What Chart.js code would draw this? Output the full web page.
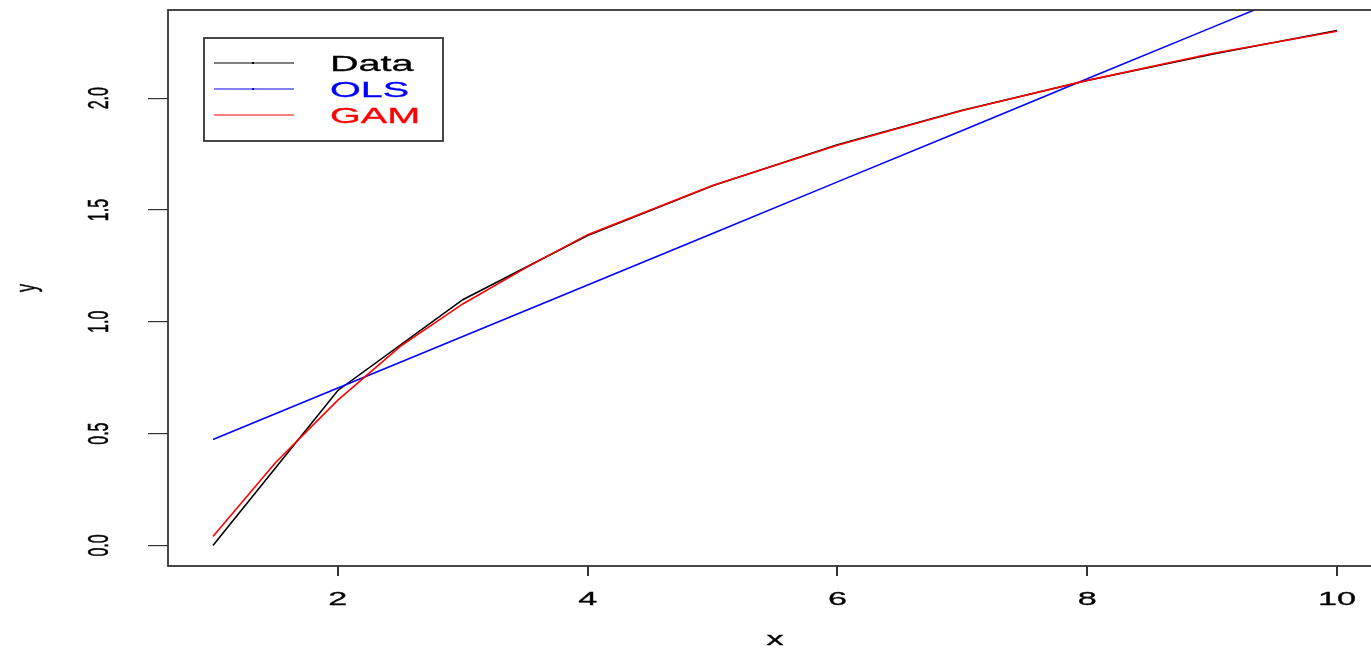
<!DOCTYPE html>
<html>
<head>
<meta charset="utf-8">
<title>Data, OLS and GAM fits</title>
<script src="https://cdn.jsdelivr.net/npm/chart.js@4.4.1/dist/chart.umd.min.js"></script>
<style>
  html, body { margin: 0; padding: 0; background: #fff; overflow: hidden; }
  #wrap { width: 1400px; height: 654px; }
</style>
</head>
<body>
<div id="wrap"><canvas id="plot" width="1400" height="654"></canvas></div>
<script>
// ===== DATA =====

const xValues = [1, 2, 3, 4, 5, 6, 7, 8, 9, 10];
const dataY = [0.000, 0.693, 1.099, 1.386, 1.609, 1.792, 1.946, 2.079, 2.197, 2.303];
const olsY = [0.474, 0.704, 0.934, 1.165, 1.395, 1.626, 1.856, 2.087, 2.317, 2.547];

const gamX = [1, 1.5, 2, 2.5, 3, 3.5, 4, 5, 6, 7, 8, 9, 10];
const gamY = [0.04, 0.37, 0.65, 0.89, 1.08, 1.24, 1.39, 1.61, 1.79, 1.945, 2.08, 2.20, 2.30];

const xTicks = [2, 4, 6, 8, 10];
const yTicks = [0, 0.5, 1.0, 1.5, 2.0];

const seriesNames = ["Data", "OLS", "GAM"];
const seriesColors = ["#000000", "#0000ff", "#ff0000"];

// ===== HELPERS =====

const pairs = (xs, ys) => xs.map((x, i) => ({ x: x, y: ys[i] }));
const FONT = '"Liberation Sans", Arial, sans-serif';
const SX = 1.8; // wide text, as in the exported figure

function wideText(ctx, text, x, y, size, color, rotate, align) {
    ctx.save();
    ctx.translate(x, y);
    ctx.scale(SX, 1);
    if (rotate) ctx.rotate(-Math.PI / 2);
    ctx.font = size + "px " + FONT;
    ctx.fillStyle = color;
    ctx.strokeStyle = color;
    ctx.lineWidth = 0.3;
    ctx.textAlign = align || "center";
    ctx.textBaseline = "middle";
    ctx.fillText(text, 0, 0);
    ctx.strokeText(text, 0, 0);
    ctx.restore();
}

// ===== BOX, LABELS AND LEGEND =====

const basePlot = {
    id: "basePlot",
    afterDraw(chart) {
        const ctx = chart.ctx;
        const area = chart.chartArea;
        const xs = chart.scales.x;
        const ys = chart.scales.y;

        // frame
        ctx.save();
        ctx.strokeStyle = "#333";
        ctx.lineWidth = 1.8;
        ctx.strokeRect(area.left, area.top, area.right - area.left, area.bottom - area.top);
        ctx.restore();

        // tick labels
        xTicks.forEach(v => {
            wideText(ctx, String(v), xs.getPixelForValue(v), 600, 19, "#000", false);
        });
        yTicks.forEach(v => {
            wideText(ctx, v.toFixed(1), 100, ys.getPixelForValue(v), 16, "#000", true);
        });

        // axis titles
        wideText(ctx, "x", (area.left + area.right) / 2, 640, 19, "#000", false);
        wideText(ctx, "y", 28, (area.top + area.bottom) / 2, 16, "#000", true);

        // legend
        const box = { x: 204, y: 38, w: 239, h: 103 };
        ctx.save();
        ctx.fillStyle = "#fff";
        ctx.fillRect(box.x, box.y, box.w, box.h);
        ctx.strokeStyle = "#333";
        ctx.lineWidth = 1.8;
        ctx.strokeRect(box.x, box.y, box.w, box.h);
        chart.data.datasets.forEach((ds, i) => {
            const rowY = 63 + i * 26;
            ctx.strokeStyle = ds.borderColor;
            ctx.lineWidth = 1.2;
            ctx.beginPath();
            ctx.moveTo(214, rowY);
            ctx.lineTo(294, rowY);
            ctx.stroke();
            if (i < 2) {
                ctx.fillStyle = ds.borderColor;
                ctx.fillRect(252, rowY - 1, 2, 2);
            }
            wideText(ctx, ds.label, 330, rowY + 2, 22, ds.borderColor, false, "left");
        });
        ctx.restore();
    }
};

// ===== CHART =====

const lineSet = (i, points, order) => ({
    label: seriesNames[i],
    data: points,
    borderColor: seriesColors[i],
    backgroundColor: seriesColors[i],
    borderWidth: 1.6,
    pointRadius: 0,
    tension: 0,
    fill: false,
    order: order
});

new Chart(document.getElementById("plot"), {
    type: "line",
    data: {
        datasets: [
            lineSet(0, pairs(xValues, dataY), 2),
            lineSet(1, pairs(xValues, olsY), 1),
            lineSet(2, pairs(gamX, gamY), 0)
        ]
    },
    options: {
        responsive: false,
        animation: false,
        devicePixelRatio: 1,
        layout: { padding: { top: 10, right: 18, left: 0, bottom: 0 } },
        plugins: { legend: { display: false }, tooltip: { enabled: false } },
        scales: {
            x: {
                type: "linear",
                min: 0.64,
                max: 10.36,
                afterBuildTicks: s => { s.ticks = xTicks.map(v => ({ value: v })); },
                afterFit: s => { s.height = 88; },
                ticks: { display: false },
                border: { display: false },
                grid: { drawOnChartArea: false, drawTicks: true, tickLength: 10, color: "#333", lineWidth: 2 }
            },
            y: {
                type: "linear",
                min: -0.0921,
                max: 2.3947,
                afterBuildTicks: s => { s.ticks = yTicks.map(v => ({ value: v })); },
                afterFit: s => { s.width = 168; },
                ticks: { display: false },
                border: { display: false },
                grid: { drawOnChartArea: false, drawTicks: true, tickLength: 20, color: "#333", lineWidth: 1.2 }
            }
        }
    },
    plugins: [basePlot]
});
</script>
</body>
</html>
